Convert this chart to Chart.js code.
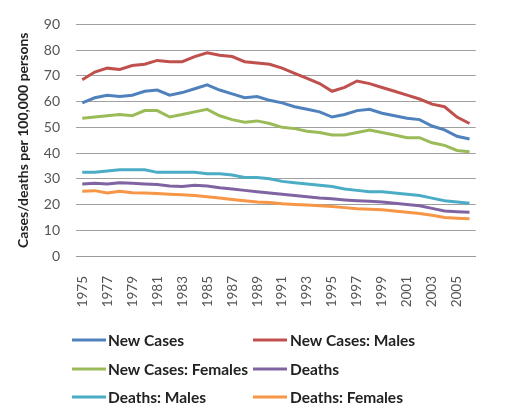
<!DOCTYPE html>
<html>
<head>
<meta charset="utf-8">
<script src="https://cdn.jsdelivr.net/npm/chart.js@4/dist/chart.umd.min.js"></script>
<style>
  html, body { margin: 0; padding: 0; background: #fff; }
  #wrap { width: 506px; height: 408px; position: relative; }
</style>
</head>
<body>
<div id="wrap"><canvas id="c" width="506" height="408"></canvas></div>
<script>
// Years 1975–2006
const years = [];
for (let y = 1975; y <= 2006; y++) years.push(String(y));

const newCases = [59.5,61.5,62.5,62,62.5,64,64.5,62.5,63.5,65,66.5,64.5,63,61.5,62,60.5,59.5,58,57,56,54,55,56.5,57,55.5,54.5,53.5,53,50.5,49,46.5,45.5];
const newCasesMales = [68.5,71.5,73,72.5,74,74.5,76,75.5,75.5,77.5,79,78,77.5,75.5,75,74.5,73,71,69,67,64,65.5,68,67,65.5,64,62.5,61,59,58,54,51.5];
const newCasesFemales = [53.5,54,54.5,55,54.5,56.5,56.5,54,55,56,57,54.5,53,52,52.5,51.5,50,49.5,48.5,48,47,47,48,49,48,47,46,46,44,43,41,40.5];
const deaths = [28,28.3,28,28.5,28.3,28,27.8,27.2,27,27.5,27.2,26.5,26,25.5,25,24.5,24,23.5,23,22.5,22.2,21.8,21.5,21.3,21,20.5,20,19.5,18.5,17.5,17.2,17];
const deathsMales = [32.5,32.5,33,33.5,33.5,33.5,32.5,32.5,32.5,32.5,32,32,31.5,30.5,30.5,30,29,28.5,28,27.5,27,26,25.5,25,25,24.5,24,23.5,22.5,21.5,21,20.5];
const deathsFemales = [25.2,25.4,24.5,25.2,24.6,24.5,24.3,24,23.8,23.5,23,22.5,22,21.5,21,20.8,20.3,20,19.8,19.5,19.2,18.8,18.4,18.2,18,17.5,17,16.5,15.8,15,14.7,14.5];

const seriesNames = ['New Cases','New Cases: Males','New Cases: Females','Deaths','Deaths: Males','Deaths: Females'];
const seriesColors = ['#4F81BD','#C0504D','#9BBB59','#8064A2','#4BACC6','#F79646'];
const seriesData = [newCases,newCasesMales,newCasesFemales,deaths,deathsMales,deathsFemales];

const FONT = 'Lato, "Open Sans", sans-serif';

// Two-column legend drawn beneath the axis
const gridLegend = {
  id: 'gridLegend',
  afterDraw(chart) {
    const ctx = chart.ctx;
    const cols = [{lx: 72, tx: 108}, {lx: 253, tx: 290}];
    const rows = [340, 369, 397];
    ctx.save();
    ctx.font = 'bold 15.5px ' + FONT;
    ctx.textBaseline = 'middle';
    ctx.textAlign = 'left';
    chart.data.datasets.forEach((ds, i) => {
      const c = cols[i % 2], y = rows[Math.floor(i / 2)];
      ctx.strokeStyle = ds.borderColor;
      ctx.lineWidth = 3;
      ctx.beginPath();
      ctx.moveTo(c.lx, y);
      ctx.lineTo(c.lx + 34, y);
      ctx.stroke();
      ctx.fillStyle = '#222';
      ctx.fillText(ds.label, c.tx, y + 1);
    });
    ctx.restore();
  }
};

new Chart(document.getElementById('c'), {
  type: 'line',
  data: {
    labels: years,
    datasets: seriesNames.map((n, i) => ({
      label: n,
      data: seriesData[i],
      borderColor: seriesColors[i],
      backgroundColor: seriesColors[i],
      borderWidth: 3,
      pointRadius: 0,
      tension: 0,
      fill: false
    }))
  },
  options: {
    responsive: false,
    animation: false,
    layout: { padding: { top: 16, right: 18, bottom: 100, left: 0 } },
    plugins: { legend: { display: false }, tooltip: { enabled: false } },
    scales: {
      x: {
        offset: true,
        grid: { display: false, drawTicks: false },
        border: { display: true, color: '#9a9a9a', width: 1 },
        ticks: {
          autoSkip: false,
          minRotation: 90,
          maxRotation: 90,
          padding: 20,
          color: '#555',
          font: { family: FONT, size: 13.5 },
          callback: function(v, i) { return i % 2 === 0 ? this.getLabelForValue(v) : ''; }
        },
        afterFit(s) { s.height = 52; }
      },
      y: {
        min: 0, max: 90,
        ticks: { stepSize: 10, color: '#555', padding: 16, font: { family: FONT, size: 14 } },
        grid: { color: '#a0a0a0', lineWidth: 1, drawTicks: false },
        border: { display: false },
        title: {
          display: true,
          text: 'Cases/deaths per 100,000 persons',
          color: '#222',
          font: { family: FONT, size: 14, weight: 'bold' },
          padding: { top: 15, bottom: 0 }
        },
        afterFit(s) { s.width = 76; }
      }
    }
  },
  plugins: [gridLegend]
});
</script>
</body>
</html>
